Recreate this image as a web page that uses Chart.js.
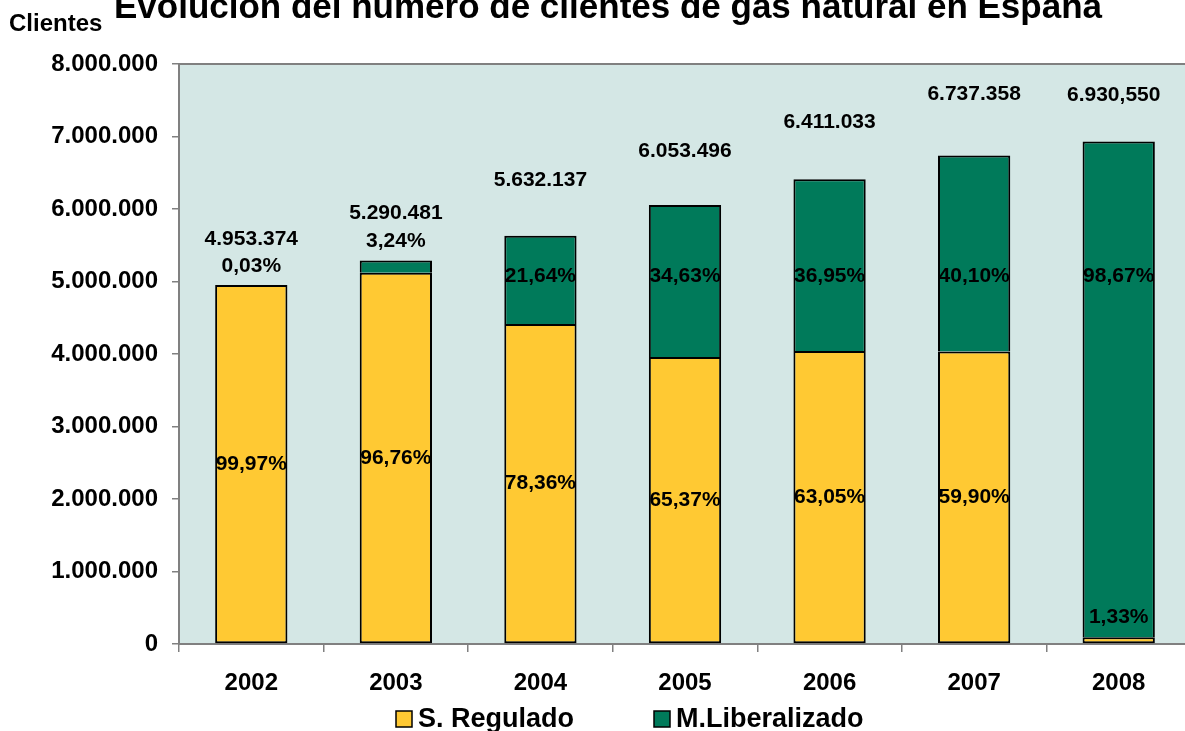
<!DOCTYPE html>
<html>
<head>
<meta charset="utf-8">
<script src="https://cdn.jsdelivr.net/npm/chart.js@4"></script>
<style>
    html, body { margin: 0; padding: 0; overflow: hidden; background: #fff; }
    canvas { display: block; }
</style>
</head>
<body>
<canvas id="chart" width="1191" height="745"></canvas>
<script>
// datos
const years = ['2002', '2003', '2004', '2005', '2006', '2007', '2008'];
const regulado = [4951888, 5119069, 4413343, 3957170, 4042156, 4035677, 92176];
const liberalizado = [1486, 171412, 1218794, 2096326, 2368877, 2701681, 6838374];
const totalLabels = ['4.953.374', '5.290.481', '5.632.137', '6.053.496', '6.411.033', '6.737.358', '6.930,550'];
const pctRegulado = ['99,97%', '96,76%', '78,36%', '65,37%', '63,05%', '59,90%', '1,33%'];
const pctLiberalizado = ['0,03%', '3,24%', '21,64%', '34,63%', '36,95%', '40,10%', '98,67%'];
const yTicks = [0, 1000000, 2000000, 3000000, 4000000, 5000000, 6000000, 7000000, 8000000];
const yTickLabels = ['0', '1.000.000', '2.000.000', '3.000.000', '4.000.000', '5.000.000', '6.000.000', '7.000.000', '8.000.000'];

const YELLOW = '#ffc933';
const GREEN = '#007a5a';
const FONT = 'Arial, "Liberation Sans", sans-serif';

// separacion del total sobre la barra (px)
const totalGap = [46, 47, 55, 54, 57, 61, 46];

// fondo, titulo, etiquetas y leyenda
const decoPlugin = {
    id: 'deco',
    beforeDraw(chart) {
        const { ctx, chartArea: a } = chart;
        ctx.save();
        ctx.fillStyle = '#d4e7e5';
        ctx.fillRect(a.left, a.top, a.right - a.left, a.bottom - a.top);
        ctx.strokeStyle = '#808080';
        ctx.lineWidth = 2;
        ctx.beginPath();
        ctx.moveTo(a.left, a.top);
        ctx.lineTo(a.right, a.top);
        ctx.stroke();
        ctx.restore();
    },
    afterDraw(chart) {
        const { ctx } = chart;
        ctx.save();
        ctx.fillStyle = '#000';
        ctx.textBaseline = 'alphabetic';
        ctx.textAlign = 'center';
        ctx.font = 'bold 35px ' + FONT;
        ctx.fillText('Evolución del número de clientes de gas natural en España', 608, 18);
        ctx.textAlign = 'left';
        ctx.font = 'bold 24px ' + FONT;
        ctx.fillText('Clientes', 9, 31);

        // leyenda
        const items = [
            { text: 'S. Regulado', color: YELLOW, x: 396 },
            { text: 'M.Liberalizado', color: GREEN, x: 654 }
        ];
        ctx.font = 'bold 27px ' + FONT;
        items.forEach(it => {
            ctx.fillStyle = it.color;
            ctx.fillRect(it.x, 711, 16, 16);
            ctx.strokeStyle = '#000';
            ctx.lineWidth = 1.5;
            ctx.strokeRect(it.x, 711, 16, 16);
            ctx.fillStyle = '#000';
            ctx.fillText(it.text, it.x + 22, 727);
        });
        ctx.restore();
    },
    afterDatasetsDraw(chart) {
        const { ctx, scales } = chart;
        const regMeta = chart.getDatasetMeta(0);
        const libMeta = chart.getDatasetMeta(1);
        ctx.save();
        ctx.fillStyle = '#000';
        ctx.textAlign = 'center';
        ctx.textBaseline = 'middle';
        ctx.font = 'bold 21px ' + FONT;
        const libY = scales.y.getPixelForValue(5070000);
        years.forEach((y, i) => {
            const r = regMeta.data[i];
            const l = libMeta.data[i];
            const x = r.x;
            // total
            ctx.fillText(totalLabels[i], i === 6 ? x - 5 : x, l.y - totalGap[i]);
            // regulado
            const rh = r.base - r.y;
            if (rh > 40) {
                ctx.fillText(pctRegulado[i], x, (r.y + r.base) / 2);
            } else {
                ctx.fillText(pctRegulado[i], x, r.y - 20);
            }
            // liberalizado
            const lh = l.base - l.y;
            if (lh > 40) {
                ctx.fillText(pctLiberalizado[i], x, libY);
            } else {
                ctx.fillText(pctLiberalizado[i], x, l.y - 19);
            }
        });
        ctx.restore();
    }
};

const ctx = document.getElementById('chart').getContext('2d');
new Chart(ctx, {
    type: 'bar',
    data: {
        labels: years,
        datasets: [
            {
                label: 'S. Regulado',
                data: regulado,
                backgroundColor: YELLOW,
                borderColor: '#000',
                borderWidth: 2,
                borderSkipped: false,
                barPercentage: 0.5,
                categoryPercentage: 1.0
            },
            {
                label: 'M.Liberalizado',
                data: liberalizado,
                backgroundColor: GREEN,
                borderColor: '#000',
                borderWidth: 2,
                borderSkipped: 'bottom',
                barPercentage: 0.5,
                categoryPercentage: 1.0
            }
        ]
    },
    options: {
        responsive: false,
        animation: false,
        layout: { padding: { top: 64, left: 0, right: 0, bottom: 51 } },
        plugins: {
            legend: { display: false },
            title: { display: false },
            tooltip: { enabled: false }
        },
        scales: {
            x: {
                stacked: true,
                afterFit: s => { s.height = 50; },
                grid: {
                    drawOnChartArea: false,
                    color: '#808080',
                    lineWidth: 1.5,
                    tickLength: 8,
                    offset: true
                },
                border: { color: '#808080', width: 2 },
                ticks: {
                    color: '#000',
                    padding: 17,
                    font: { family: FONT, size: 24, weight: 'bold' }
                }
            },
            y: {
                stacked: true,
                min: 0,
                max: 8000000,
                afterFit: s => { s.width = 179; },
                afterBuildTicks: s => { s.ticks = yTicks.map(v => ({ value: v })); },
                grid: {
                    drawOnChartArea: false,
                    color: '#808080',
                    lineWidth: 1.5,
                    tickLength: 7
                },
                border: { color: '#808080', width: 2 },
                ticks: {
                    color: '#000',
                    padding: 14,
                    font: { family: FONT, size: 24, weight: 'bold' },
                    callback: (v, i) => yTickLabels[yTicks.indexOf(v)]
                }
            }
        }
    },
    plugins: [decoPlugin]
});
</script>
</body>
</html>
